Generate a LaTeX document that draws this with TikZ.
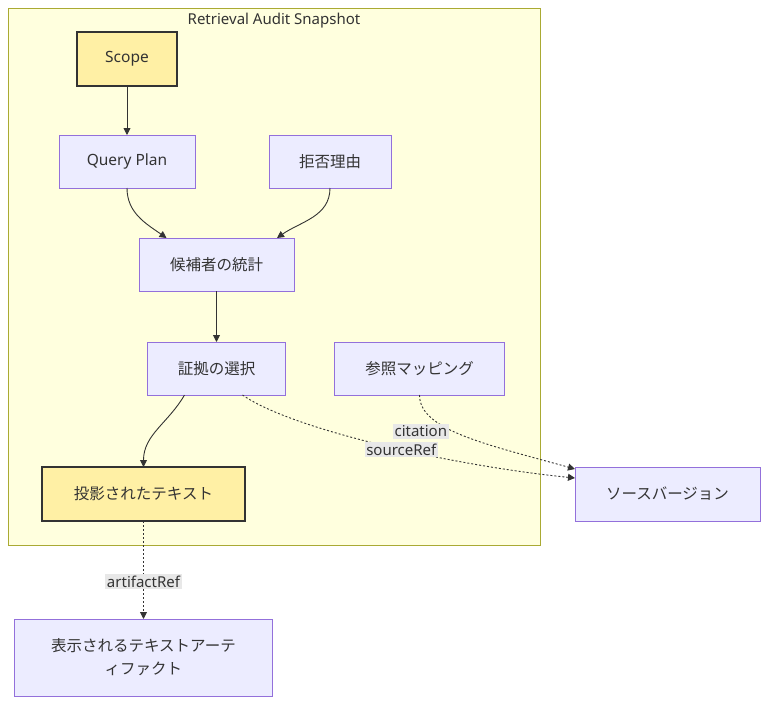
\documentclass[tikz,border=0pt]{standalone}
\usepackage{xcolor}
\usepackage{fontspec}
\usepackage{tikz}
\usetikzlibrary{arrows.meta, positioning}
\setmainfont{Noto Sans}
\newfontfamily\jp{Noto Sans CJK JP}
\definecolor{nodefill}{HTML}{ECECFF}
\definecolor{nodeline}{HTML}{9370DB}
\definecolor{hotfill}{HTML}{FFF0A5}
\definecolor{textgrey}{HTML}{333333}
\definecolor{clusterfill}{HTML}{FFFFDE}
\definecolor{clusterline}{HTML}{AAAA33}
\definecolor{lblfill}{HTML}{E8E8E8}

\begin{document}
\begin{tikzpicture}[
    x=1pt, y=1pt,
    box/.style={rectangle, draw=nodeline, fill=nodefill, line width=1pt, outer sep=0pt,
                minimum height=53pt, align=center, text=textgrey,
                font=\fontsize{15.5}{23}\selectfont},
    hot/.style={box, draw=textgrey, fill=hotfill, line width=2pt, minimum height=54pt},
    cluster/.style={rectangle, draw=clusterline, fill=clusterfill, line width=1pt, outer sep=0pt},
    lbl/.style={fill=lblfill, inner sep=1.5pt, text=textgrey,
                font=\fontsize{15}{18}\selectfont},
    arrow/.style={-{Triangle[length=7pt, width=7pt]}, draw=textgrey, line width=0.9pt},
    dotarrow/.style={arrow, dash pattern=on 2pt off 2pt},
  ]
  \useasboundingbox (0,0) rectangle (777,-712);

  % subgraph
  \node[cluster, minimum width=532pt, minimum height=537pt] (audit) at (274,-276.5) {};
  \node[text=textgrey, font=\fontsize{15}{18}\selectfont, below=2pt of audit.north] (audittitle) {Retrieval Audit Snapshot};

  \node[hot, minimum width=100pt] (scope) at (127,-59) {Scope};
  \node[box, minimum width=136pt, below=49pt of scope] (qplan) {Query Plan};
  \node[box, minimum width=122pt, right=74pt of qplan] (reject) {\jp 拒否理由};
  \node[box, minimum width=155pt, below=50pt of qplan, xshift=89.5pt] (stats) {\jp 候補者の統計};
  \node[box, minimum width=138pt, below=51pt of stats] (evidence) {\jp 証拠の選択};
  \node[box, minimum width=170pt, right=49pt of evidence] (mapping) {\jp 参照マッピング};
  \node[hot, minimum width=203pt, below=72pt of evidence, xshift=-73pt] (projected) {\jp 投影されたテキスト};
  \node[box, minimum width=185pt, minimum height=54pt, right=330pt of projected] (source) {\jp ソースバージョン};
  \node[box, minimum width=258pt, minimum height=77pt, below=98pt of projected] (shown) {\jp 表示されるテキストアーテ\\\jp ィファクト};

  \draw[arrow] (scope) -- (qplan);
  \draw[arrow] (qplan.south) to[out=-90, in=145] ([xshift=-50pt]stats.north);
  \draw[arrow] (reject.south) to[out=-90, in=35] ([xshift=60.5pt]stats.north);
  \draw[arrow] (stats) -- (evidence);
  \draw[arrow] ([xshift=-32pt]evidence.south) to[out=-120, in=90] (projected.north);
  \draw[dotarrow] ([xshift=26pt]evidence.south) .. controls +(50,-35) and +(-120,12) ..
    node[lbl, pos=0.55] (srclbl) {sourceRef} ([yshift=-11pt]source.north west);
  \draw[dotarrow] (mapping.south) .. controls +(0,-35) and +(-90,25) ..
    node[lbl, pos=0.35, xshift=-21pt, yshift=-6pt] (citelbl) {citation} ([yshift=-2pt]source.north west);
  \draw[dotarrow] (projected) -- node[lbl, pos=0.62] (artlbl) {artifactRef} (shown);
\end{tikzpicture}
\end{document}
